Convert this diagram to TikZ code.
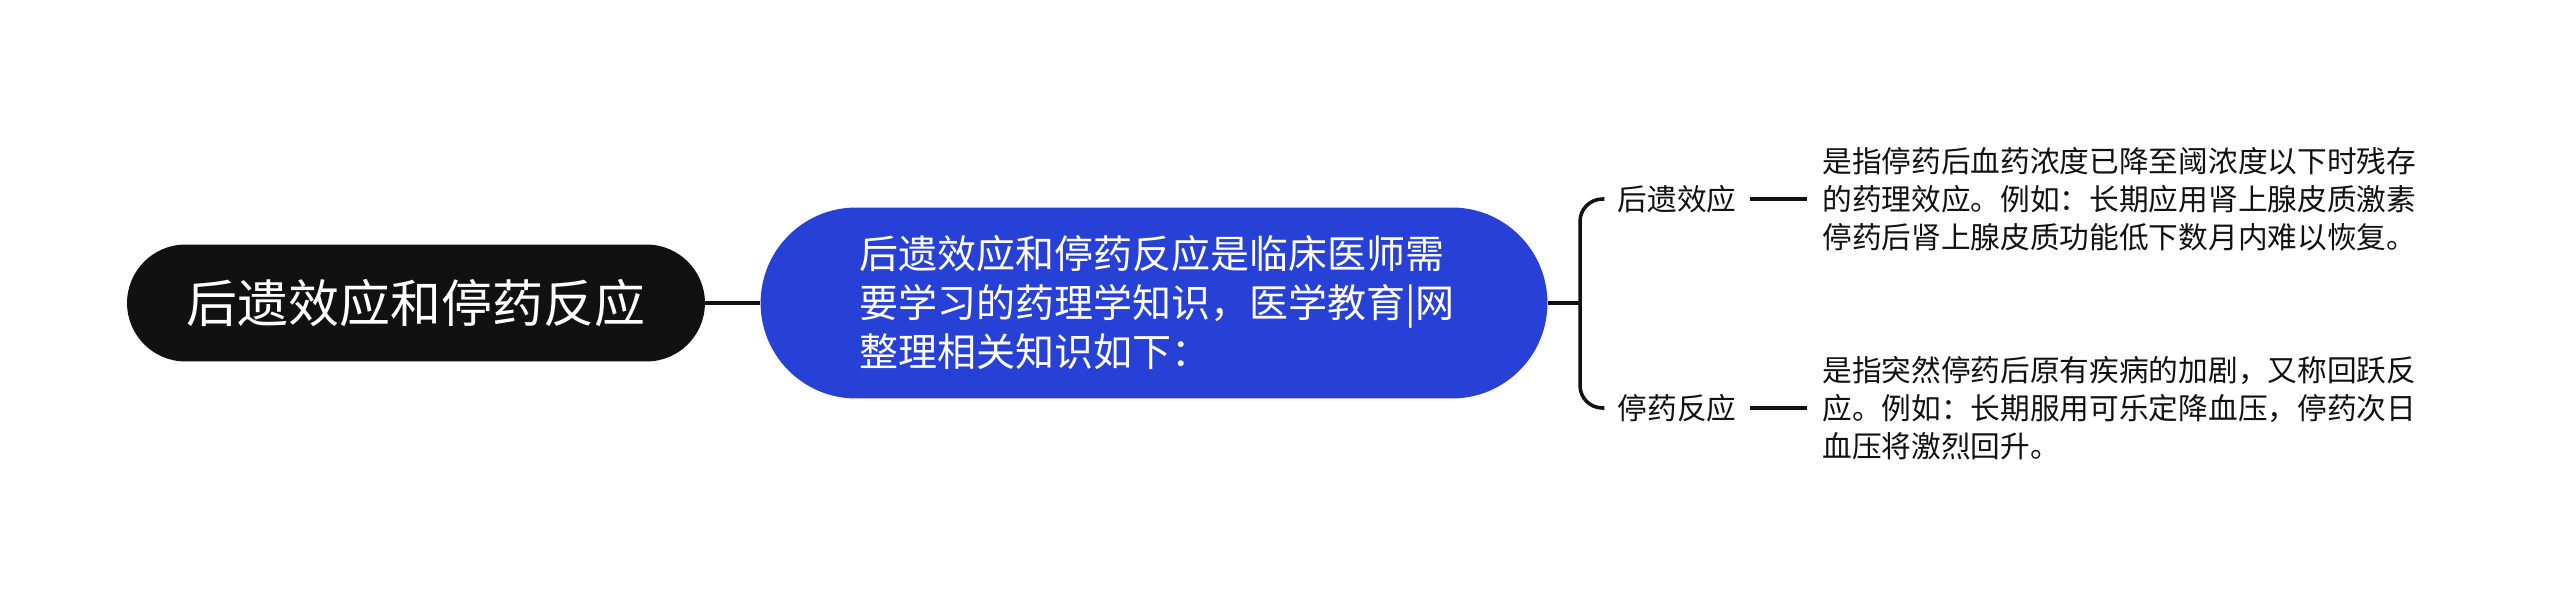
\documentclass[tikz,border=0pt]{standalone}
\usepackage{fontspec}
\setmainfont{Noto Sans CJK SC}
\usepackage{tikz}
\usetikzlibrary{
  shapes,
  calc,
  positioning,
  arrows
}
\definecolor{rootblack}{HTML}{111111}
\definecolor{introblue}{HTML}{2740D6}

\begin{document}
\begin{tikzpicture}[x=0.02cm, y=-0.02cm,
    link/.style = {draw = rootblack, line width = 2pt},
    dashlink/.style = {draw = rootblack, line width = 2.6pt},
    label/.style = {font = \fontsize{16.9}{21.6}\selectfont, inner xsep = 0.26cm, text = rootblack},
    detail/.style = {font = \fontsize{16.9}{21.6}\selectfont, anchor = west, align = left, inner xsep = 0.3cm, text = rootblack}]
    \useasboundingbox (0,0) rectangle (2560,608);

    \node[rectangle, fill = rootblack, text = white, minimum width = 11.56cm, minimum height = 2.34cm, rounded corners = 1.17cm, font = \fontsize{29}{35}\selectfont] (root) at (416,303) {后遗效应和停药反应};
    \node[rectangle, fill = introblue, text = white, minimum width = 15.74cm, minimum height = 3.82cm, rounded corners = 1.91cm, align = left, text width = 11.8cm, font = \fontsize{22.2}{27.9}\selectfont] (intro) at (1154,303) {后遗效应和停药反应是临床医师需\\要学习的药理学知识，医学教育|网\\整理相关知识如下：};

    \coordinate (fork) at (1580,303);
    \node[label] (post) at (1677,199) {后遗效应};
    \node[label] (stop) at (1677,408) {停药反应};
    \node[detail] (postinfo) at (1807,199) {是指停药后血药浓度已降至阈浓度以下时残存\\的药理效应。例如：长期应用肾上腺皮质激素\\停药后肾上腺皮质功能低下数月内难以恢复。};
    \node[detail] (stopinfo) at (1807,408) {是指突然停药后原有疾病的加剧，又称回跃反\\应。例如：长期服用可乐定降血压，停药次日\\血压将激烈回升。};

    \draw[link] (root) -- (intro);
    \draw[link] (intro.east) -- (fork);
    \draw[link, rounded corners = 0.45cm] (fork) |- (post.west);
    \draw[link, rounded corners = 0.45cm] (fork) |- (stop.west);
    \draw[dashlink] (post) -- (postinfo);
    \draw[dashlink] (stop) -- (stopinfo);
  \end{tikzpicture}
\end{document}
